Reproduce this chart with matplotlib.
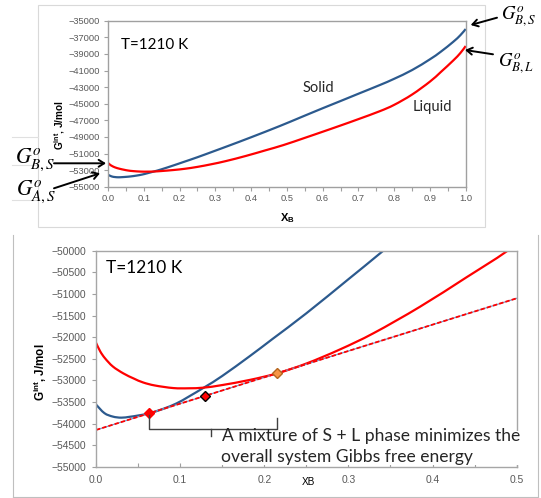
import numpy as np
import matplotlib
matplotlib.use("Agg")
import matplotlib.pyplot as plt
from matplotlib.lines import Line2D
from matplotlib.path import Path
from matplotlib.patches import Rectangle, FancyArrowPatch, PathPatch

# Gibbs energy of solid and liquid vs composition X_B (J/mol)
x_solid = [0.0, 0.01, 0.02, 0.03, 0.04, 0.05, 0.063, 0.08, 0.096, 0.11, 0.13, 0.15,
           0.183, 0.21, 0.25, 0.30, 0.34, 0.40, 0.48, 0.54, 0.60, 0.65, 0.70, 0.76,
           0.80, 0.85, 0.90, 0.93, 0.965, 0.985, 1.0]
g_solid = [-53560, -53760, -53840, -53865, -53845, -53815, -53764, -53660, -53532,
           -53380, -53148, -52900, -52437, -52040, -51449, -50660, -50023, -49045,
           -47693, -46620, -45550, -44680, -43800, -42750, -42000, -40950, -39650,
           -38750, -37550, -36750, -36000]

x_liquid = [0.0, 0.005, 0.0107, 0.02, 0.0325, 0.045, 0.056, 0.07, 0.092, 0.11, 0.128,
            0.15, 0.183, 0.215, 0.25, 0.29, 0.33, 0.385, 0.44, 0.49, 0.55, 0.60, 0.65,
            0.70, 0.76, 0.80, 0.85, 0.90, 0.93, 0.965, 0.985, 1.0]
g_liquid = [-52130, -52330, -52490, -52680, -52840, -52960, -53050, -53120, -53180,
            -53185, -53170, -53110, -52990, -52840, -52612, -52285, -51908, -51298,
            -50620, -49990, -49120, -48380, -47630, -46860, -45900, -45140, -43900,
            -42340, -41200, -39800, -38900, -38050]

# common tangent end points and the three marked compositions
x_tangent = [0.0, 0.5]
g_tangent = [-54150, -51102]
x_marks = [0.063, 0.130, 0.2148]
g_marks = [-53764, -53356, -52830]
mark_face = ['#FF0000', '#FF0000', '#F79646']
mark_edge = ['#FF0000', '#000000', '#B5651D']

BLUE = '#2C5A8E'
RED = '#FF0000'
W, H = 541, 498


def fx(x):
    return x / W


def fy(y):
    return 1 - y / H


def smooth_line(ax, xs, ys, **kw):
    # Excel-style smoothed line: cubic Bezier segments through the points
    p = np.column_stack([xs, ys]).astype(float)
    verts = [p[0]]
    codes = [Path.MOVETO]
    n = len(p)
    for i in range(n - 1):
        p0 = p[i - 1] if i > 0 else p[i]
        p3 = p[i + 2] if i + 2 < n else p[i + 1]
        c1 = p[i] + (p[i + 1] - p0) / 6
        c2 = p[i + 1] - (p3 - p[i]) / 6
        verts += [c1, c2, p[i + 1]]
        codes += [Path.CURVE4] * 3
    ax.add_patch(PathPatch(Path(verts, codes), fill=False, capstyle='butt', **kw))


plt.rcParams['font.family'] = ['Liberation Sans', 'DejaVu Sans']
plt.rcParams['mathtext.fontset'] = 'custom'
plt.rcParams['mathtext.rm'] = 'Liberation Sans'
plt.rcParams['mathtext.bf'] = 'Liberation Sans:bold'
plt.rcParams['mathtext.it'] = 'Liberation Sans:italic'

fig = plt.figure(figsize=(W / 100, H / 100), dpi=100)

# chart-area frames
fig.add_artist(Rectangle((fx(37.7), fy(227.3)), fx(485 - 37.7), (227.3 - 5) / H,
                         transform=fig.transFigure, fill=False, ec='#D9D9D9', lw=0.8))
for seg in [((13.3, 13.3), (235, 497)), ((13.3, 538), (497, 497)), ((538, 538), (235, 497))]:
    fig.add_artist(Line2D([fx(v) for v in seg[0]], [fy(v) for v in seg[1]],
                          transform=fig.transFigure, color='#BFBFBF', lw=0.8))
for yy in [137, 165, 200]:
    fig.add_artist(Line2D([fx(12), fx(37.7)], [fy(yy), fy(yy)],
                          transform=fig.transFigure, color='#E0E0E0', lw=0.8))

# ---------------- top chart ----------------
ax1 = fig.add_axes([fx(108), fy(186.7), fx(465.7 - 108), (186.7 - 20.7) / H])
smooth_line(ax1, x_solid, g_solid, ec=BLUE, lw=1.6)
smooth_line(ax1, x_liquid, g_liquid, ec=RED, lw=1.6)
ax1.set_xlim(0, 1)
ax1.set_ylim(-55000, -35000)
ax1.set_xticks(np.arange(0, 1.01, 0.1))
ax1.set_xticklabels(['%.1f' % v for v in np.arange(0, 1.01, 0.1)])
ax1.set_xticks(np.arange(0.05, 1.0, 0.1), minor=True)
ax1.set_yticks(np.arange(-55000, -34999, 2000))
ax1.tick_params(axis='both', which='both', direction='out', length=3, width=0.8,
                color='#A0A0A0', labelsize=6.7, labelcolor='#595959')
ax1.tick_params(axis='x', pad=2.3)
ax1.tick_params(axis='y', pad=2.6)
for s in ax1.spines.values():
    s.set_color('#A0A0A0')
    s.set_linewidth(1.0)

# ---------------- bottom chart ----------------
ax2 = fig.add_axes([fx(96), fy(466.7), fx(516.7 - 96), (466.7 - 250.7) / H])
smooth_line(ax2, x_solid, g_solid, ec=BLUE, lw=1.6)
smooth_line(ax2, x_liquid, g_liquid, ec=RED, lw=1.6)
ax2.plot(x_tangent, g_tangent, color='#7D96C4', lw=0.9)
ax2.plot(x_tangent, g_tangent, color=RED, lw=1.3, ls=(0, (2.4, 1.2)))
for xm, gm, fc, ec in zip(x_marks, g_marks, mark_face, mark_edge):
    ax2.plot([xm], [gm], marker='D', ms=4.6, mfc=fc, mec=ec, mew=1.0, zorder=5)
ax2.set_xlim(0, 0.5)
ax2.set_ylim(-55000, -50000)
ax2.set_xticks(np.arange(0, 0.51, 0.1))
ax2.set_xticklabels(['%.1f' % v for v in np.arange(0, 0.51, 0.1)])
ax2.set_xticks(np.arange(0.05, 0.5, 0.1), minor=True)
ax2.set_yticks(np.arange(-55000, -49999, 500))
ax2.tick_params(axis='both', which='both', length=3, width=0.8, color='#A0A0A0',
                labelsize=7.4, labelcolor='#595959')
ax2.tick_params(axis='x', which='both', direction='in', pad=6.0)
ax2.tick_params(axis='y', direction='out', pad=4.0)
for s in ax2.spines.values():
    s.set_color('#A6A6A6')
    s.set_linewidth(1.0)

# ---------------- axis titles and labels ----------------
fig.text(fx(287), fy(218), r'$\mathbf{X_B}$', ha='center', va='center', fontsize=8)
fig.text(fx(60), fy(125), r'$\mathbf{G^{int}}$, J/mol', rotation=90, ha='center',
         va='center', fontsize=7.2, fontweight='bold')
fig.text(fx(308), fy(482), 'XB', ha='center', va='center', fontsize=7.2)
fig.text(fx(40), fy(372), r'$\mathbf{G^{int}}$, J/mol', rotation=90, ha='center',
         va='center', fontsize=8.4, fontweight='bold')

cal = ['Lato', 'DejaVu Sans']
fig.text(fx(121), fy(49), 'T=1210 K', family=cal, fontsize=11, va='baseline')
fig.text(fx(106), fy(273), 'T=1210 K', family=cal, fontsize=12.5, va='baseline')
fig.text(fx(303), fy(91.7), 'Solid', family=cal, fontsize=10.5, va='baseline', color='#262626')
fig.text(fx(413), fy(111), 'Liquid', family=cal, fontsize=10.5, va='baseline', color='#262626')

# thermodynamic reference labels with arrows
gl = dict(math_fontfamily='stix', va='baseline', ha='left', color='black')
fig.text(fx(15), fy(163.3), r'$G_{B,S}^{o}$', fontsize=15.5, **gl)
fig.text(fx(16), fy(195), r'$G_{A,S}^{o}$', fontsize=15.5, **gl)
fig.text(fx(501), fy(20), r'$G_{B,S}^{o}$', fontsize=13.5, **gl)
fig.text(fx(498), fy(66.7), r'$G_{B,L}^{o}$', fontsize=13.5, **gl)
for (x0, y0), (x1, y1) in [((54, 163.3), (106, 163.3)), ((54, 188.3), (100, 173.3)),
                           ((497, 17.7), (470.7, 25)), ((493, 54.3), (465, 50))]:
    fig.add_artist(FancyArrowPatch((fx(x0), fy(y0)), (fx(x1), fy(y1)),
                                   transform=fig.transFigure,
                                   arrowstyle='->,head_length=4,head_width=2.5',
                                   color='black', lw=1.4, shrinkA=0, shrinkB=0))

# brace callout
brace = [[(149, 149, 211, 277, 277), (415, 428.5, 428.5, 428.5, 418)],
         [(211, 211), (428.5, 436)]]
for bx, by in brace:
    fig.add_artist(Line2D([fx(v) for v in bx], [fy(v) for v in by],
                          transform=fig.transFigure, color='#404040', lw=1.0))
fig.add_artist(Rectangle((fx(214), fy(464.5)), fx(519 - 214), (464.5 - 431) / H,
                         transform=fig.transFigure, fc='white', ec='none', zorder=3))
fig.text(fx(221.5), fy(440.7), 'A mixture of S + L phase minimizes the', family=cal,
         fontsize=12.6, va='baseline', color='#262626', zorder=4)
fig.text(fx(221), fy(461.7), 'overall system Gibbs free energy', family=cal,
         fontsize=12.6, va='baseline', color='#262626', zorder=4)

fig.savefig('out.png', dpi=100)
